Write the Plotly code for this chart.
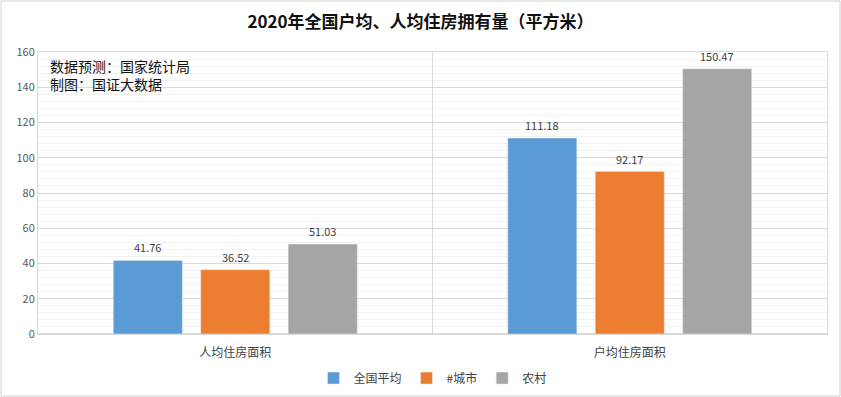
import plotly.graph_objects as go

categories = ["人均住房面积", "户均住房面积"]
series_names = ["全国平均", "#城市", "农村"]
national = [41.76, 111.18]
urban = [36.52, 92.17]
rural = [51.03, 150.47]
colors = ["#5B9BD5", "#ED7D31", "#A5A5A5"]

FONT = "Noto Sans CJK SC"
fig = go.Figure()
offsets = [-87.5, 0, 87.5]
for name, vals, c, off in zip(series_names, [national, urban, rural], colors, offsets):
    fig.add_trace(go.Bar(x=categories, y=vals, name=name, marker_color=c))
    for cat, v in zip(categories, vals):
        fig.add_annotation(x=cat, y=v, text=f"{v:.2f}", showarrow=False,
                           xshift=off, yshift=13, yanchor="middle",
                           font=dict(size=11, color="#404040", family=FONT))

fig.update_layout(
    width=841, height=397,
    margin=dict(l=38, r=14, t=52, b=63, autoexpand=False),
    paper_bgcolor="white", plot_bgcolor="white",
    barmode="group", bargap=0.335, bargroupgap=0.21,
    font=dict(family=FONT, color="#595959", size=12),
    title=dict(text="<b>2020年全国户均、人均住房拥有量（平方米）</b>",
               x=0.5, xanchor="center", y=0.945, yanchor="middle",
               font=dict(size=17, color="#111111", family=FONT)),
    legend=dict(orientation="h", x=0.5, xanchor="center", y=-0.105, yanchor="top",
                font=dict(size=12, color="#404040"), itemwidth=30),
    showlegend=True,
)
fig.update_yaxes(range=[0, 160], dtick=20, showgrid=True, gridcolor="#D9D9D9",
                 minor=dict(dtick=4, showgrid=True, gridcolor="#F2F2F2"),
                 zeroline=True, zerolinecolor="#D9D9D9",
                 tickfont=dict(size=11, color="#595959"), ticks="",
                 automargin=False, showline=True, linecolor="#D9D9D9", mirror=True)
fig.update_xaxes(showgrid=False, tickfont=dict(size=12, color="#404040"),
                 showline=True, linecolor="#D9D9D9", mirror=True,
                 ticks="outside", ticklen=8, tickcolor="rgba(0,0,0,0)", automargin=False)
# category divider
fig.add_shape(type="line", xref="paper", yref="paper", x0=0.5, x1=0.5, y0=0, y1=1,
              line=dict(color="#D9D9D9", width=1))
# outer border
fig.add_shape(type="rect", xref="paper", yref="paper", x0=-37/789, x1=1+13/789,
              y0=-62/282, y1=1+51/282, line=dict(color="#D0D0D0", width=1))
fig.add_annotation(text="数据预测：国家统计局<br>制图：国证大数据", xref="paper", yref="paper",
                   x=10/789, y=1-2/282, xanchor="left", yanchor="top", showarrow=False,
                   align="left", font=dict(size=14, color="#111111", family=FONT))
fig.write_html("out.html", config={"displayModeBar": False},
               post_script="document.body.style.margin='0';document.body.style.overflow='hidden';")
